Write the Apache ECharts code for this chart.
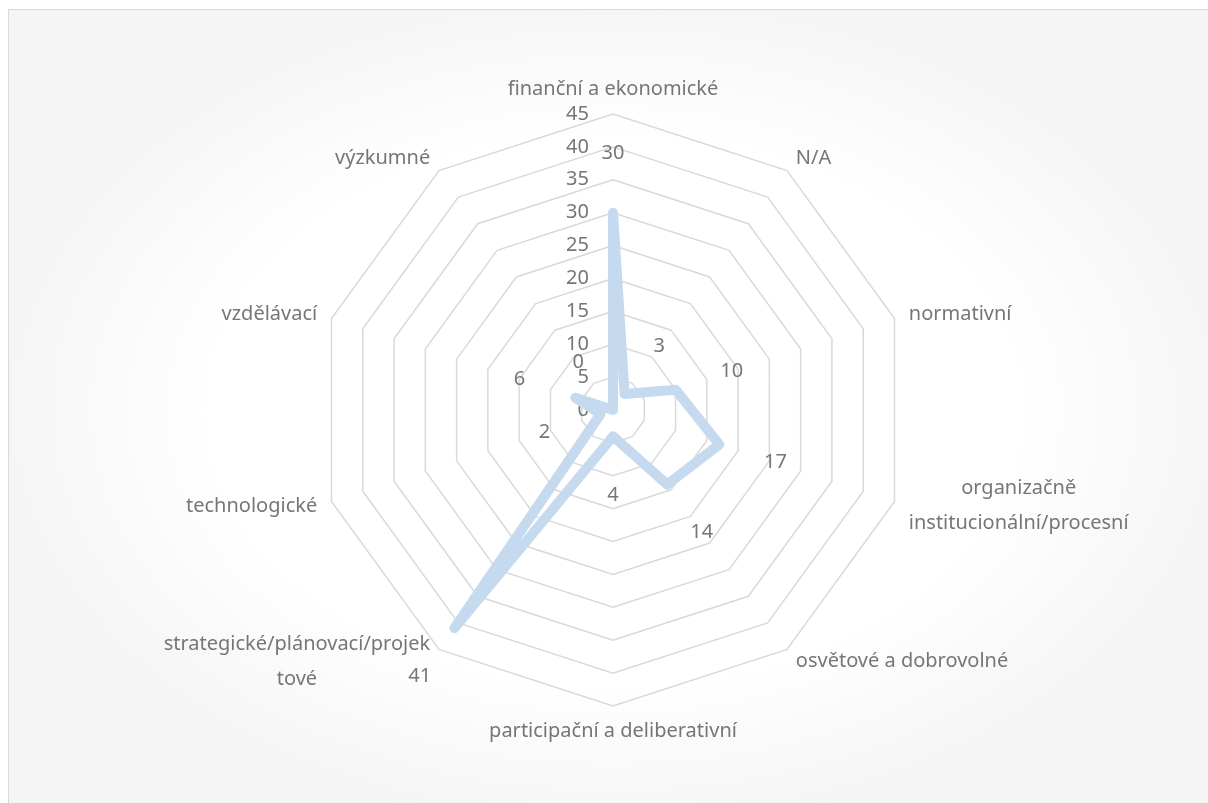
<!DOCTYPE html>
<html>
<head>
<meta charset="utf-8">
<script src="https://cdn.jsdelivr.net/npm/echarts@6/dist/echarts.min.js"></script>
<style>
  html, body { margin: 0; padding: 0; width: 1208px; height: 803px; background: #fff; overflow: hidden; }
  #frame {
    position: absolute; left: 8px; top: 9px; width: 1300px; height: 900px;
    border: 1px solid #d9d9d9;
    background: radial-gradient(ellipse 620px 420px at 605px 400px, #ffffff 65%, #f5f5f5 100%);
  }
  #chart { position: absolute; left: 0; top: 0; width: 1208px; height: 803px; }
</style>
</head>
<body>
<div id="frame"></div>
<div id="chart"></div>
<script>
// kategorie v pořadí jako v Excelu (od vrcholu po směru hodin)
const categories = [
  'finanční a ekonomické',
  'N/A',
  'normativní',
  'organizačně\ninstitucionální/procesní',
  'osvětové a dobrovolné',
  'participační a deliberativní',
  'strategické/plánovací/projek\ntové',
  'technologické',
  'vzdělávací',
  'výzkumné'
]
const values = [30, 3, 10, 17, 14, 4, 41, 2, 6, 0]
const axisMin = 0
const axisMax = 45
const axisStep = 5

const textColor = '#767676'
const font = 'Noto Sans'

// echarts klade osy proti směru hodin -> otočit pořadí (první zůstává nahoře)
const order = [0].concat(categories.map((c, i) => i).slice(1).reverse())
const n = order.length

const indicator = order.map((i, k) => {
  const ind = { name: categories[i], min: axisMin, max: axisMax }
  if (k === 0) {
    // popisky stupnice jen na horní ose
    ind.axisLabel = { show: true }
  }
  return ind
})

const chart = echarts.init(document.getElementById('chart'))

let labelCounter = 0
const labelDist = 59

chart.setOption({
  animation: false,
  radar: {
    center: [613, 410],
    radius: 296,
    shape: 'polygon',
    splitNumber: (axisMax - axisMin) / axisStep,
    indicator: indicator,
    axisName: {
      color: textColor,
      fontSize: 20,
      fontFamily: font,
      // víceřádkové názvy centrovat jako v Excelu
      formatter: name => name.indexOf('\n') < 0
        ? name
        : name.split('\n').map(l => '{c|' + l + '}').join('\n'),
      rich: {
        c: { align: 'center', color: textColor, fontSize: 20, fontFamily: font, lineHeight: 35 }
      }
    },
    nameGap: 15,
    axisLine: { show: false },
    axisTick: { show: false },
    axisLabel: {
      show: false,
      color: textColor,
      fontSize: 20,
      fontFamily: font,
      margin: 24
    },
    splitLine: {
      lineStyle: { color: '#d9d9d9', width: 1.5 }
    },
    splitArea: { show: false }
  },
  series: [
    {
      type: 'radar',
      symbol: 'circle',
      symbolSize: 2,
      itemStyle: { color: '#c5daef' },
      lineStyle: { color: '#c5daef', width: 10, cap: 'round', join: 'round' },
      label: {
        show: true,
        position: 'inside',
        color: textColor,
        fontSize: 20,
        fontFamily: font
      },
      // popisky hodnot odsunout ven od středu ve směru osy
      labelLayout: function () {
        const k = labelCounter++ % n
        const a = Math.PI / 2 + k * 2 * Math.PI / n
        return {
          dx: labelDist * Math.cos(a),
          dy: -labelDist * Math.sin(a),
          align: 'center',
          verticalAlign: 'middle'
        }
      },
      data: [{ value: order.map(i => values[i]) }]
    }
  ]
})
</script>
</body>
</html>
